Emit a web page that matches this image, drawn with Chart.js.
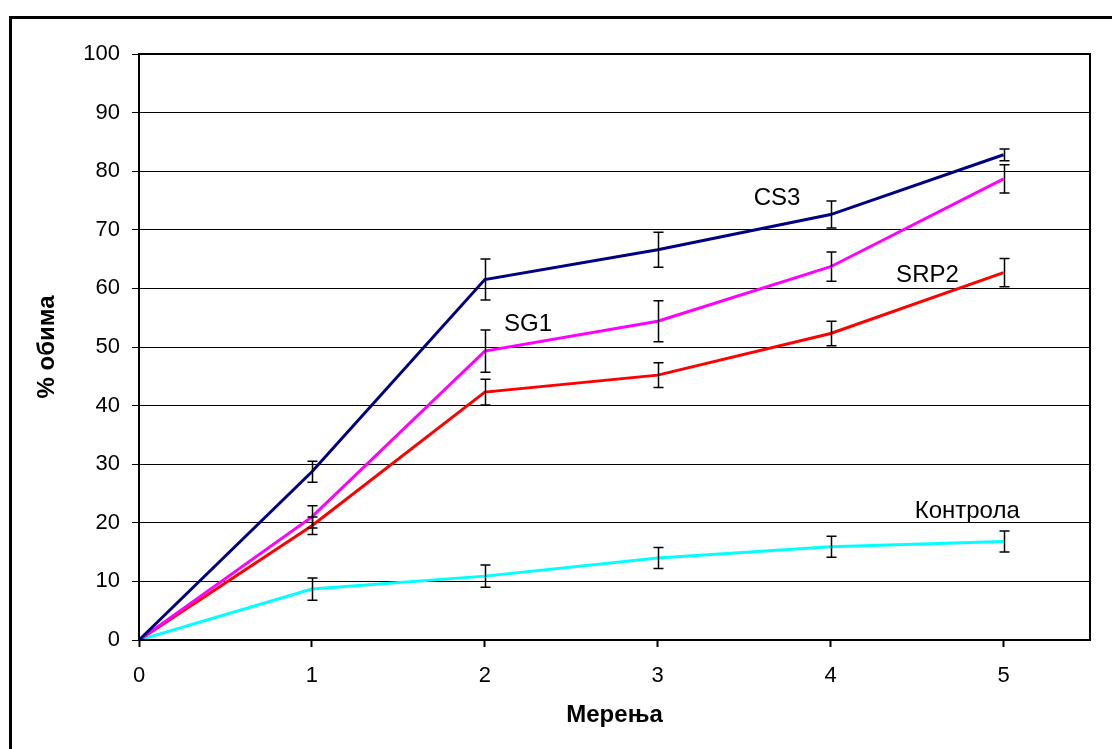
<!DOCTYPE html>
<html>
<head>
<meta charset="utf-8">
<script src="https://cdn.jsdelivr.net/npm/chart.js@4/dist/chart.umd.min.js"></script>
<style>
  html, body { margin: 0; padding: 0; background: #fff; }
  #wrap { position: relative; width: 1112px; height: 749px; }
</style>
</head>
<body>
<div id="wrap"><canvas id="chart"></canvas></div>
<script>
// мерења (x) и вредности серија (% обима)
const measurements = [0, 1, 2, 3, 4, 5]
const cs3 = [0, 28.7, 61.5, 66.6, 72.6, 82.8]
const sg1 = [0, 21.0, 49.3, 54.4, 63.7, 78.7]
const srp2 = [0, 19.5, 42.3, 45.2, 52.3, 62.7]
const kontrola = [0, 8.7, 10.9, 14.0, 15.9, 16.8]

// грешке (±)
const cs3Err = [0, 1.8, 3.5, 3.0, 2.3, 1.0]
const sg1Err = [0, 1.9, 3.6, 3.5, 2.5, 2.4]
const srp2Err = [0, 1.5, 2.2, 2.1, 2.1, 2.4]
const kontrolaErr = [0, 1.9, 1.9, 1.8, 1.8, 1.8]

const yTicks = [0, 10, 20, 30, 40, 50, 60, 70, 80, 90, 100]
const xTicks = [0, 1, 2, 3, 4, 5]

const FONT = "'Liberation Sans', Arial, sans-serif"

const toPoints = (vals) => measurements.map((m, i) => ({ x: m, y: vals[i] }))

const series = [
  { label: 'CS3', data: cs3, err: cs3Err, color: '#000080', tagX: 3.69, tagY: 75.4 },
  { label: 'SG1', data: sg1, err: sg1Err, color: '#FF00FF', tagX: 2.25, tagY: 53.8 },
  { label: 'SRP2', data: srp2, err: srp2Err, color: '#FF0000', tagX: 4.56, tagY: 62.2 },
  { label: 'Контрола', data: kontrola, err: kontrolaErr, color: '#00FFFF', tagX: 4.79, tagY: 21.9 }
]

// оквир око целе слике
const framePlugin = {
  id: 'frame',
  beforeDraw(chart) {
    const ctx = chart.ctx
    ctx.save()
    ctx.fillStyle = '#fff'
    ctx.fillRect(0, 0, chart.width, chart.height)
    ctx.strokeStyle = '#000'
    ctx.lineWidth = 3
    ctx.strokeRect(10.5, 17.5, 1300, 900)
    ctx.restore()
  },
  afterDraw(chart) {
    // оквир области цртања
    const { left, top, right, bottom } = chart.chartArea
    const ctx = chart.ctx
    ctx.save()
    ctx.strokeStyle = '#000'
    ctx.lineWidth = 2
    ctx.strokeRect(left, top, right - left, bottom - top)
    ctx.restore()
  }
}

// стубићи грешке и натписи серија
const errorBarPlugin = {
  id: 'errorBars',
  afterDatasetsDraw(chart) {
    const ctx = chart.ctx
    const xs = chart.scales.x
    const ys = chart.scales.y
    ctx.save()
    ctx.strokeStyle = '#000'
    ctx.lineWidth = 1.5
    series.forEach(s => {
      measurements.forEach((m, i) => {
        const e = s.err[i]
        if (!e) return
        const px = Math.round(xs.getPixelForValue(m)) + 0.5
        const yTop = ys.getPixelForValue(s.data[i] + e)
        const yBot = ys.getPixelForValue(s.data[i] - e)
        ctx.beginPath()
        ctx.moveTo(px, yTop)
        ctx.lineTo(px, yBot)
        ctx.moveTo(px - 5, yTop)
        ctx.lineTo(px + 5, yTop)
        ctx.moveTo(px - 5, yBot)
        ctx.lineTo(px + 5, yBot)
        ctx.stroke()
      })
    })
    ctx.fillStyle = '#000'
    ctx.font = '24px ' + FONT
    ctx.textAlign = 'center'
    ctx.textBaseline = 'middle'
    series.forEach(s => {
      ctx.fillText(s.label, xs.getPixelForValue(s.tagX), ys.getPixelForValue(s.tagY))
    })
    ctx.restore()
  }
}

new Chart(document.getElementById('chart'), {
  type: 'line',
  data: {
    datasets: series.map(s => ({
      label: s.label,
      data: toPoints(s.data),
      borderColor: s.color,
      backgroundColor: s.color,
      borderWidth: 3,
      pointRadius: 0,
      tension: 0,
      fill: false
    }))
  },
  options: {
    responsive: true,
    maintainAspectRatio: false,
    animation: false,
    layout: {
      padding: { left: 20, top: 54, right: 22, bottom: 19 }
    },
    plugins: {
      legend: { display: false },
      tooltip: { enabled: false }
    },
    scales: {
      x: {
        type: 'linear',
        min: 0,
        max: 5.5,
        afterBuildTicks: (axis) => { axis.ticks = xTicks.map(v => ({ value: v })) },
        afterFit: (axis) => { axis.height = 90 },
        grid: {
          drawOnChartArea: false,
          drawTicks: true,
          tickLength: 7,
          tickColor: '#000',
          tickWidth: 2
        },
        border: { color: '#000', width: 2 },
        ticks: {
          color: '#000',
          padding: 16,
          maxRotation: 0,
          font: { family: FONT, size: 22 }
        },
        title: {
          display: true,
          text: 'Мерења',
          color: '#000',
          padding: { top: 0, bottom: 0 },
          font: { family: FONT, size: 24, weight: 'bold', lineHeight: 1.2 }
        }
      },
      y: {
        min: 0,
        max: 100,
        afterBuildTicks: (axis) => { axis.ticks = yTicks.map(v => ({ value: v })) },
        afterFit: (axis) => { axis.width = 119 },
        grid: {
          color: '#000',
          lineWidth: 1,
          drawTicks: true,
          tickLength: 7,
          tickColor: '#000'
        },
        border: { color: '#000', width: 2 },
        ticks: {
          color: '#000',
          padding: 12,
          font: { family: FONT, size: 22 }
        },
        title: {
          display: true,
          text: '% обима',
          color: '#000',
          padding: { top: 13, bottom: 0 },
          font: { family: FONT, size: 24, weight: 'bold', lineHeight: 1.2 }
        }
      }
    }
  },
  plugins: [framePlugin, errorBarPlugin]
})
</script>
</body>
</html>
